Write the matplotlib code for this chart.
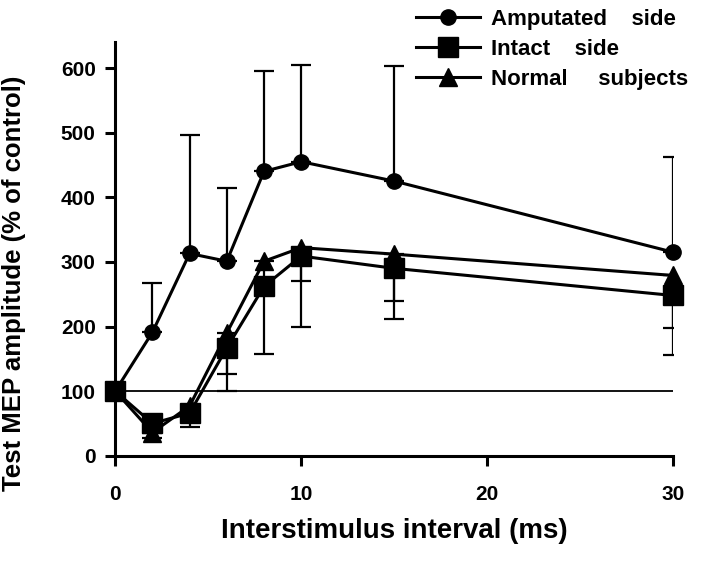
import numpy as np
import matplotlib
matplotlib.use("Agg")
import matplotlib.pyplot as plt

plt.rcParams['font.family'] = ['Liberation Sans', 'DejaVu Sans']
plt.rcParams['font.weight'] = 'bold'

isi = [0, 2, 4, 6, 8, 10, 15, 30]

amputated = [100, 191, 313, 301, 440, 455, 425, 315]
amputated_err_up = [0, 76, 183, 114, 155, 150, 178, 147]

intact = [100, 50, 66, 167, 262, 309, 290, 248]
intact_err_down = [0, 10, 22, 66, 104, 109, 78, 92]

normal = [100, 36, 77, 190, 301, 322, 312, 279]
normal_err_down = [0, 8, 20, 63, 40, 52, 73, 81]

baseline = 100

fig = plt.figure(figsize=(7.2, 5.62), dpi=100)
ax = fig.add_axes([0.16, 0.189, 0.775, 0.736])

# control level
ax.plot([0, 30], [baseline, baseline], color='black', lw=1.3, zorder=1)

# error bars (one-sided)
z = np.zeros(len(isi))
ax.errorbar(isi, amputated, yerr=[z, amputated_err_up], fmt='none', ecolor='black',
            elinewidth=1.6, capsize=7, capthick=1.6, zorder=2)
ax.errorbar(isi, intact, yerr=[intact_err_down, z], fmt='none', ecolor='black',
            elinewidth=1.6, capsize=7, capthick=1.6, zorder=2)
ax.errorbar(isi, normal, yerr=[normal_err_down, z], fmt='none', ecolor='black',
            elinewidth=1.6, capsize=7, capthick=1.6, zorder=2)

ax.plot(isi, amputated, color='black', lw=2.2, marker='o', markersize=11,
        label='Amputated    side', clip_on=False, zorder=3)
ax.plot(isi, intact, color='black', lw=2.2, marker='s', markersize=15,
        label='Intact    side', clip_on=False, zorder=3)
ax.plot(isi, normal, color='black', lw=2.2, marker='^', markersize=13,
        label='Normal     subjects', clip_on=False, zorder=3)

ax.set_xlim(0, 30)
ax.set_ylim(0, 640)
ax.set_xticks([0, 10, 20, 30])
ax.set_yticks([0, 100, 200, 300, 400, 500, 600])

for s in ['top', 'right']:
    ax.spines[s].set_visible(False)
for s in ['left', 'bottom']:
    ax.spines[s].set_linewidth(2.2)
ax.tick_params(direction='out', length=7, width=2.2, labelsize=15)
ax.tick_params(axis='x', pad=14)
ax.tick_params(axis='y', pad=7)

ax.set_xlabel('Interstimulus interval (ms)', fontsize=20, fontweight='bold', labelpad=10)
ax.set_ylabel('Test MEP amplitude (% of control)', fontsize=18.5, fontweight='bold')
ax.yaxis.set_label_coords(-0.16, 0.418)

fig.legend(loc='upper left', bbox_to_anchor=(0.565, 1.0), frameon=False,
           fontsize=16, handlelength=2.9, labelspacing=0.4, handletextpad=0.5,
           borderaxespad=0)

fig.savefig('out.png', dpi=100)
